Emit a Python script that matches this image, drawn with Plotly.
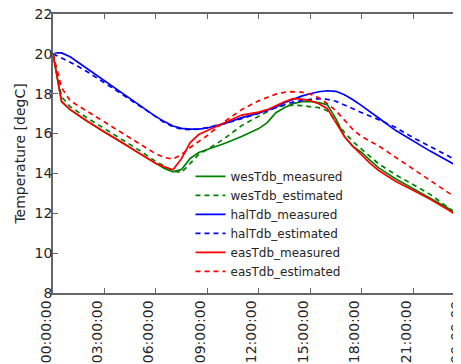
import plotly.graph_objects as go

# time in hours since midnight
hours = [0, 0.25, 0.5, 1, 1.5, 2, 3, 4, 5, 6, 6.5, 7, 7.5, 8, 8.5, 9, 10, 11, 12, 12.5,
         13, 13.5, 14, 14.5, 15, 15.5, 16, 16.5, 17, 17.5, 18, 18.5, 19, 20, 21, 22, 23, 24]

wesTdb_measured = [20.0, 18.8, 17.6, 17.2, 16.9, 16.62, 16.08, 15.58, 15.03, 14.48, 14.25, 14.08, 14.2, 14.75, 15.05, 15.2, 15.5, 15.85, 16.25, 16.55,
                   17.05, 17.3, 17.5, 17.6, 17.62, 17.55, 17.45, 16.75, 15.85, 15.35, 15.05, 14.65, 14.28, 13.72, 13.25, 12.78, 12.28, 11.7]
wesTdb_estimated = [20.0, 19.0, 17.85, 17.35, 17.05, 16.78, 16.25, 15.72, 15.18, 14.6, 14.35, 14.12, 14.05, 14.5, 14.95, 15.2, 15.75, 16.4, 16.85, 17.1,
                    17.33, 17.4, 17.42, 17.4, 17.36, 17.3, 17.15, 16.65, 16.05, 15.6, 15.22, 14.85, 14.48, 13.93, 13.45, 12.95, 12.32, 11.72]
halTdb_measured = [20.0, 20.05, 20.05, 19.85, 19.55, 19.25, 18.65, 18.05, 17.45, 16.85, 16.6, 16.38, 16.26, 16.22, 16.22, 16.28, 16.5, 16.8, 17.02, 17.17,
                   17.33, 17.55, 17.72, 17.88, 18.0, 18.1, 18.15, 18.12, 17.95, 17.7, 17.4, 17.1, 16.78, 16.15, 15.62, 15.12, 14.65, 14.15]
halTdb_estimated = [20.0, 19.9, 19.78, 19.58, 19.35, 19.1, 18.55, 18.0, 17.42, 16.85, 16.55, 16.35, 16.22, 16.2, 16.22, 16.3, 16.5, 16.75, 17.0, 17.15,
                    17.3, 17.45, 17.58, 17.65, 17.72, 17.75, 17.72, 17.62, 17.45, 17.25, 17.05, 16.88, 16.7, 16.3, 15.8, 15.35, 14.9, 14.45]
easTdb_measured = [20.0, 18.8, 17.6, 17.2, 16.9, 16.62, 16.08, 15.55, 15.0, 14.5, 14.33, 14.18, 14.75, 15.55, 15.95, 16.15, 16.55, 16.93, 17.08, 17.2,
                   17.4, 17.6, 17.75, 17.73, 17.65, 17.5, 17.25, 16.55, 15.85, 15.35, 14.9, 14.5, 14.15, 13.6, 13.15, 12.7, 12.2, 11.65]
easTdb_estimated = [20.0, 19.2, 18.3, 17.65, 17.38, 17.1, 16.6, 16.05, 15.5, 14.98, 14.8, 14.72, 14.95, 15.3, 15.6, 15.9, 16.6, 17.2, 17.65, 17.82,
                    17.98, 18.07, 18.1, 18.08, 17.98, 17.8, 17.5, 17.15, 16.7, 16.2, 15.85, 15.6, 15.38, 14.8, 14.22, 13.65, 13.1, 12.5]

tick_hours = [0, 3, 6, 9, 12, 15, 18, 21]
tick_labels = ["00:00:00", "03:00:00", "06:00:00", "09:00:00", "12:00:00", "15:00:00", "18:00:00", "21:00:00"]
last_tick_label = "00:00:00"

series = [
    ("wesTdb_measured", wesTdb_measured, "#008000", "solid"),
    ("wesTdb_estimated", wesTdb_estimated, "#008000", "5px,4px"),
    ("halTdb_measured", halTdb_measured, "#0000ff", "solid"),
    ("halTdb_estimated", halTdb_estimated, "#0000ff", "5px,4px"),
    ("easTdb_measured", easTdb_measured, "#ff0000", "solid"),
    ("easTdb_estimated", easTdb_estimated, "#ff0000", "5px,4px"),
]

fig = go.Figure()
for name, vals, color, dash in series:
    fig.add_trace(go.Scatter(x=hours, y=vals, mode="lines", name=name,
                             line=dict(color=color, width=1.7, dash=dash)))

axis_common = dict(showline=True, linecolor="#666666", linewidth=1.5,
                   ticks="inside", ticklen=5, tickcolor="#666666", showgrid=False, zeroline=False,
                   automargin=False, ticklabeloverflow="allow", tickfont=dict(size=14, color="#262626"))

# the page body has an 8px margin, so the figure is sized to end at the window edge
fig.update_layout(
    width=453, height=356,
    margin=dict(l=45, r=0, t=6, b=71),
    plot_bgcolor="white", paper_bgcolor="white",
    font=dict(family="DejaVu Sans", size=14, color="#262626"),
    showlegend=True,
    legend=dict(x=0.337, y=0.47, xanchor="left", yanchor="top", bgcolor="rgba(0,0,0,0)",
                font=dict(size=12, color="#262626"), itemwidth=30, tracegroupgap=0),
    xaxis=dict(range=[0, 23.8], tickvals=tick_hours, ticktext=tick_labels, tickangle=-90,
               ticklabelshift=-7, mirror="ticks", **axis_common),
    yaxis=dict(range=[8, 22], dtick=2, ticklabelstandoff=-4, mirror=False,
               title=dict(text="Temperature [degC]", font=dict(size=14), standoff=6),
               **axis_common),
    yaxis2=dict(range=[8, 22], dtick=2, overlaying="y", side="right", anchor="x",
                showline=False, ticks="inside", ticklen=5, tickcolor="#666666",
                showticklabels=False, showgrid=False, zeroline=False),
    annotations=[dict(text=last_tick_label, xref="paper", yref="paper", x=(448 - 45) / 408, y=-0.022,
                      xanchor="center", yanchor="top", textangle=-90, showarrow=False,
                      font=dict(size=14, color="#262626"))],
)

fig.write_html("out.html")
